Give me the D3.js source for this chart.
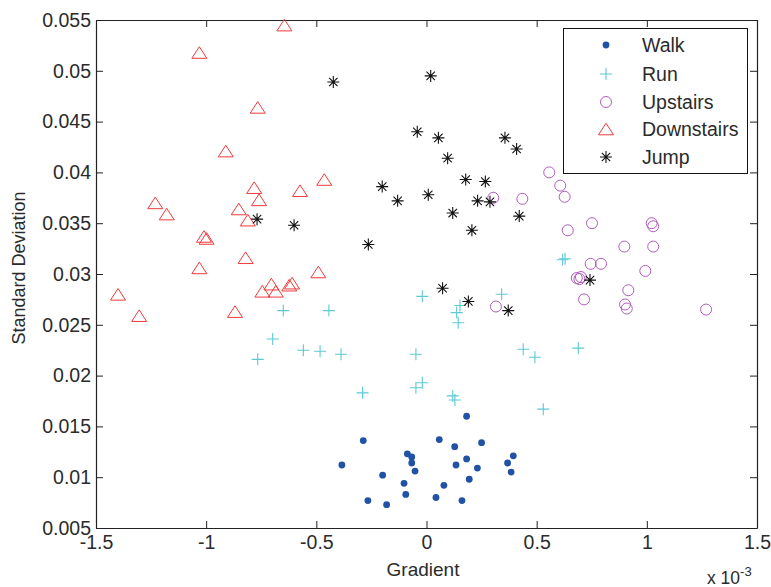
<!DOCTYPE html>
<html>
<head>
<meta charset="utf-8">
<script src="https://cdn.jsdelivr.net/npm/d3@7"></script>
<style>
  body { margin: 0; background: #fff; }
  svg text { font-family: "Liberation Sans", Arial, sans-serif; fill: #2b2b2b; }
</style>
</head>
<body>
<div id="canvas"></div>
<script>
// data, gradient values in units of 1e-3
const walkX = [-0.287, -0.384, -0.199, -0.266, -0.181, 0.182, 0.058, 0.250, 0.128, -0.087, -0.067, 0.394, 0.182, -0.067, 0.368, 0.134, 0.231, -0.052, 0.384, 0.194, -0.102, 0.079, -0.094, 0.043, 0.161];
const walkY = [0.0136, 0.0112, 0.0102, 0.0077, 0.0073, 0.0160, 0.0137, 0.0134, 0.0130, 0.0123, 0.0120, 0.0121, 0.0118, 0.0114, 0.0114, 0.0112, 0.0109, 0.0106, 0.0105, 0.0098, 0.0094, 0.0092, 0.0083, 0.0080, 0.0077];

const runX = [-0.650, -0.443, -0.698, -0.766, -0.559, -0.483, -0.388, -0.290, -0.019, 0.341, 0.152, 0.137, 0.144, -0.048, 0.439, 0.492, 0.689, -0.019, -0.048, 0.119, 0.129, 0.530, 0.618, 0.629];
const runY = [0.0264, 0.0264, 0.0236, 0.0216, 0.0225, 0.0224, 0.0221, 0.0183, 0.0278, 0.0280, 0.0269, 0.0262, 0.0252, 0.0221, 0.0226, 0.0218, 0.0227, 0.0193, 0.0188, 0.0180, 0.0176, 0.0167, 0.0314, 0.0315];

const upX = [0.557, 0.607, 0.627, 0.303, 0.435, 0.751, 0.641, 1.022, 1.029, 0.898, 1.029, 0.745, 0.792, 0.993, 0.682, 0.701, 0.694, 0.916, 0.715, 0.901, 0.909, 1.269, 0.315];
const upY = [0.0400, 0.0387, 0.0376, 0.0375, 0.0374, 0.0350, 0.0343, 0.0350, 0.0347, 0.0327, 0.0327, 0.0310, 0.0310, 0.0303, 0.0296, 0.0297, 0.0295, 0.0284, 0.0275, 0.0270, 0.0266, 0.0265, 0.0268];

const downX = [-0.645, -1.031, -0.766, -0.911, -0.464, -0.782, -0.574, -0.760, -1.231, -1.179, -0.852, -0.811, -1.010, -0.998, -0.821, -1.031, -0.491, -0.704, -0.610, -0.623, -0.745, -0.684, -1.400, -1.304, -0.869];
const downY = [0.0545, 0.0518, 0.0464, 0.0421, 0.0393, 0.0385, 0.0382, 0.0373, 0.0370, 0.0359, 0.0364, 0.0353, 0.0337, 0.0335, 0.0316, 0.0306, 0.0302, 0.0290, 0.0291, 0.0289, 0.0283, 0.0283, 0.0280, 0.0259, 0.0263];

const jumpX = [-0.423, -0.201, -0.769, -0.601, -0.264, 0.019, -0.042, 0.054, 0.356, 0.409, 0.096, 0.178, 0.267, -0.131, 0.008, 0.232, 0.288, 0.119, 0.421, 0.206, 0.742, 0.073, 0.190, 0.371];
const jumpY = [0.0489, 0.0386, 0.0354, 0.0348, 0.0329, 0.0495, 0.0440, 0.0434, 0.0434, 0.0423, 0.0414, 0.0393, 0.0391, 0.0372, 0.0378, 0.0372, 0.0371, 0.0360, 0.0357, 0.0343, 0.0294, 0.0286, 0.0273, 0.0264];

const xTicks = [-1.5, -1, -0.5, 0, 0.5, 1, 1.5];
const yTicks = [0.005, 0.01, 0.015, 0.02, 0.025, 0.03, 0.035, 0.04, 0.045, 0.05, 0.055];

const seriesNames = ["Walk", "Run", "Upstairs", "Downstairs", "Jump"];

const width = 771, height = 587;
const plotLeft = 96, plotRight = 757, plotTop = 20, plotBottom = 528;

const x = d3.scaleLinear().domain([-1.5, 1.5]).range([plotLeft, plotRight]);
const y = d3.scaleLinear().domain([0.005, 0.055]).range([plotBottom, plotTop]);

const svg = d3.select('#canvas').append('svg')
    .attr('width', width)
    .attr('height', height);

// marker drawing for each series
const markers = {
    Walk: function (g) {
        g.append('circle').attr('r', 3.4).style('fill', '#2152a6');
    },
    Run: function (g) {
        g.append('path').attr('d', 'M-6,0H6M0,-6V6')
            .style('stroke', '#5cc9d3').style('stroke-width', 1.1).style('fill', 'none');
    },
    Upstairs: function (g) {
        g.append('circle').attr('r', 5.5)
            .style('stroke', '#b05cbc').style('stroke-width', 1).style('fill', 'none');
    },
    Downstairs: function (g) {
        g.append('path').attr('d', 'M0,-5.8L7.5,5.8L-7.5,5.8Z')
            .style('stroke', '#f03a3a').style('stroke-width', 1).style('fill', 'none');
    },
    Jump: function (g) {
        g.append('path').attr('d', 'M-6,0H6M0,-6V6M-4.2,-4.2L4.2,4.2M-4.2,4.2L4.2,-4.2')
            .style('stroke', '#111').style('stroke-width', 1.1).style('fill', 'none');
    }
};

const seriesData = [
    { name: "Walk", xs: walkX, ys: walkY },
    { name: "Run", xs: runX, ys: runY },
    { name: "Upstairs", xs: upX, ys: upY },
    { name: "Downstairs", xs: downX, ys: downY },
    { name: "Jump", xs: jumpX, ys: jumpY }
];

// axes, ticks pointing inward on all four sides
const fmt = function (d) { return String(d); };

svg.append('g')
    .attr('transform', 'translate(0,' + plotBottom + ')')
    .call(d3.axisBottom(x).tickValues(xTicks).tickFormat(fmt).tickSize(-7).tickSizeOuter(0).tickPadding(7));
svg.append('g')
    .attr('transform', 'translate(0,' + plotTop + ')')
    .call(d3.axisTop(x).tickValues(xTicks).tickFormat('').tickSize(-7).tickSizeOuter(0));
svg.append('g')
    .attr('transform', 'translate(' + plotLeft + ',0)')
    .call(d3.axisLeft(y).tickValues(yTicks).tickFormat(fmt).tickSize(-7).tickSizeOuter(0).tickPadding(5));
svg.append('g')
    .attr('transform', 'translate(' + plotRight + ',0)')
    .call(d3.axisRight(y).tickValues(yTicks).tickFormat('').tickSize(-7).tickSizeOuter(0));

svg.selectAll('.domain').style('stroke', '#222').style('stroke-width', 1.2);
svg.selectAll('.tick line').style('stroke', '#222');
svg.selectAll('.tick text')
    .style('font-size', '19.5px')
    .style('font-family', '"Liberation Sans", Arial, sans-serif')
    .style('fill', '#2b2b2b');

// points
seriesData.forEach(function (s) {
    const pts = svg.append('g').selectAll('g')
        .data(s.xs.map(function (v, i) { return [v, s.ys[i]]; }))
        .enter()
        .append('g')
        .attr('transform', function (d) { return 'translate(' + x(d[0]) + ',' + y(d[1]) + ')'; });
    pts.each(function () { markers[s.name](d3.select(this)); });
});

// axis labels
svg.append('text')
    .attr('x', 423).attr('y', 576)
    .attr('text-anchor', 'middle')
    .style('font-size', '19px')
    .text('Gradient');

svg.append('text')
    .attr('transform', 'translate(25,268) rotate(-90)')
    .attr('text-anchor', 'middle')
    .style('font-size', '18px')
    .text('Standard Deviation');

const expo = svg.append('text')
    .attr('x', 707).attr('y', 584)
    .style('font-size', '17.5px');
expo.append('tspan').text('x 10');
expo.append('tspan').attr('dy', -8).style('font-size', '13px').text('-3');

// legend
const legend = svg.append('g');
legend.append('rect')
    .attr('x', 563.5).attr('y', 28.5)
    .attr('width', 184).attr('height', 145)
    .style('fill', '#fff').style('stroke', '#111').style('stroke-width', 1);

const legendRows = [45, 74, 102, 129, 157];
seriesNames.forEach(function (name, i) {
    const row = legend.append('g').attr('transform', 'translate(606,' + legendRows[i] + ')');
    markers[name](row);
    legend.append('text')
        .attr('x', 642).attr('y', legendRows[i])
        .attr('dy', '0.36em')
        .style('font-size', '19.5px')
        .text(name);
});
</script>
</body>
</html>
